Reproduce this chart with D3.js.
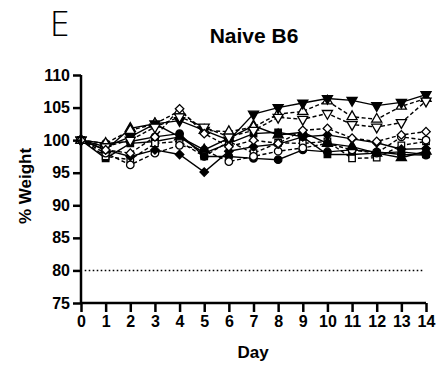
<!DOCTYPE html>
<html>
<head>
<meta charset="utf-8">
<script src="https://cdn.jsdelivr.net/npm/d3@7"></script>
<style>
  body { margin: 0; background: #fff; }
  text { font-family: "Liberation Sans", Arial, sans-serif; }
</style>
</head>
<body>
<svg width="438" height="372"></svg>
<script>
// data
const days = [0, 1, 2, 3, 4, 5, 6, 7, 8, 9, 10, 11, 12, 13, 14];
const yTicks = [75, 80, 85, 90, 95, 100, 105, 110];
const invTriFilled = [100, 99.0, 100.5, 102.5, 103.0, 101.5, 100.0, 104.0, 105.0, 105.7, 106.4, 106.1, 105.3, 105.8, 107.0];
const triOpen      = [100, 99.5, 101.5, 102.5, 104.5, 101.5, 101.3, 102.0, 104.0, 104.4, 106.0, 103.6, 103.2, 105.2, 106.4];
const invTriOpen   = [100, 99.0, 100.0, 102.0, 103.6, 102.0, 100.5, 101.5, 103.5, 103.2, 104.1, 102.4, 102.0, 102.7, 106.0];
const diamondOpen  = [100, 98.5, 98.0, 100.5, 104.8, 101.0, 99.0, 100.0, 99.5, 101.5, 101.8, 100.3, 99.8, 100.8, 101.3];
const diamondFill  = [100, 98.5, 97.5, 98.5, 97.8, 95.1, 98.3, 99.0, 99.4, 100.5, 100.8, 100.2, 99.6, 98.6, 98.7];
const circleOpen   = [100, 98.0, 96.2, 98.0, 99.2, 98.5, 96.7, 97.5, 98.3, 98.8, 99.5, 98.5, 98.0, 100.5, 100.0];
const circleFill   = [100, 99.5, 99.8, 100.5, 101.0, 97.5, 97.5, 97.2, 97.0, 98.5, 98.2, 98.5, 98.2, 97.8, 97.7];
const squareFill   = [100, 97.2, 99.5, 99.8, 100.5, 98.0, 99.5, 101.0, 101.2, 100.5, 97.8, 97.8, 98.0, 98.2, 97.8];
const squareOpen   = [100, 97.5, 97.0, 99.5, 99.8, 97.5, 99.8, 98.0, 99.6, 99.5, 99.8, 97.2, 97.3, 99.2, 99.8];
const triFilled    = [100, 98.5, 101.8, 102.5, 100.5, 98.5, 100.3, 102.2, 100.8, 101.2, 99.5, 99.0, 98.0, 97.3, 98.3];

const series = [
  { values: squareFill,   shape: "square",  open: false },
  { values: squareOpen,   shape: "square",  open: true },
  { values: circleFill,   shape: "circle",  open: false },
  { values: circleOpen,   shape: "circle",  open: true },
  { values: triFilled,    shape: "tri",     open: false },
  { values: triOpen,      shape: "tri",     open: true },
  { values: invTriFilled, shape: "invtri",  open: false },
  { values: invTriOpen,   shape: "invtri",  open: true },
  { values: diamondFill,  shape: "diamond", open: false },
  { values: diamondOpen,  shape: "diamond", open: true }
];

const svg = d3.select("svg"),
    margin = { top: 75, right: 12, bottom: 69, left: 81 },
    width = +svg.attr("width") - margin.left - margin.right,
    height = +svg.attr("height") - margin.top - margin.bottom;

const x = d3.scaleLinear().domain([0, 14]).range([0, width]),
    y = d3.scaleLinear().domain([75, 110]).range([height, 0]),
    g = svg.append("g").attr("transform", `translate(${margin.left},${margin.top})`);

// panel letter and title
svg.append("text")
    .attr("x", 50).attr("y", 36)
    .style("font-family", "'Open Sans', 'DejaVu Sans', sans-serif")
    .attr("font-weight", 300)
    .attr("font-size", "35px")
    .text("E");

svg.append("text")
    .attr("x", 254).attr("y", 43)
    .attr("text-anchor", "middle")
    .attr("font-weight", "bold")
    .attr("font-size", "21px")
    .text("Naive B6");

// 80% cut-off
g.append("line")
    .attr("x1", x(0.15)).attr("x2", x(13.9))
    .attr("y1", y(80)).attr("y2", y(80))
    .attr("stroke", "#000")
    .attr("stroke-width", 1.6)
    .attr("stroke-dasharray", "1.6,2.4");

// lines
const line = d3.line().x((d, i) => x(days[i])).y(d => y(d));
series.forEach(s => {
    g.append("path")
        .datum(s.values)
        .attr("fill", "none")
        .attr("stroke", "#000")
        .attr("stroke-width", 1.4)
        .attr("stroke-dasharray", s.open ? "4,2.5" : null)
        .attr("d", line);
});

// markers
const symbols = {
    square: d3.symbol().type(d3.symbolSquare).size(42),
    circle: d3.symbol().type(d3.symbolCircle).size(44),
    tri: d3.symbol().type(d3.symbolTriangle).size(44),
    invtri: d3.symbol().type(d3.symbolTriangle).size(44),
    diamond: d3.symbol().type(d3.symbolSquare).size(36)
};
const rot = { square: 0, circle: 0, tri: 0, invtri: 180, diamond: 45 };

series.forEach(s => {
    g.selectAll(null)
        .data(s.values)
        .join("path")
        .attr("d", symbols[s.shape])
        .attr("transform", (d, i) => `translate(${x(days[i])},${y(d)}) rotate(${rot[s.shape]})`)
        .attr("fill", s.open ? "#fff" : "#000")
        .attr("stroke", "#000")
        .attr("stroke-width", 1.3);
});

// axes
const yAxis = g.append("g")
    .call(d3.axisLeft(y).tickValues(yTicks).tickSize(8).tickPadding(3));
const xAxis = g.append("g")
    .attr("transform", `translate(0,${height})`)
    .call(d3.axisBottom(x).tickValues(days).tickSize(9).tickPadding(4).tickFormat(d3.format("d")));

[yAxis, xAxis].forEach(a => {
    a.select(".domain").attr("stroke-width", 2.5);
    a.selectAll(".tick line").attr("stroke-width", 2.5);
    a.selectAll(".tick text")
        .attr("font-weight", "bold")
        .attr("font-size", "16px")
        .attr("fill", "#000")
        .style("font-family", "'Liberation Sans', Arial, sans-serif");
});
yAxis.select(".domain").attr("d", `M0,${height}V0`);
xAxis.select(".domain").attr("d", `M0,0H${width}`);

// axis titles
svg.append("text")
    .attr("transform", `translate(31,186) rotate(-90)`)
    .attr("text-anchor", "middle")
    .attr("font-weight", "bold")
    .attr("font-size", "17px")
    .text("% Weight");

svg.append("text")
    .attr("x", 253).attr("y", 358)
    .attr("text-anchor", "middle")
    .attr("font-weight", "bold")
    .attr("font-size", "17px")
    .text("Day");
</script>
</body>
</html>
